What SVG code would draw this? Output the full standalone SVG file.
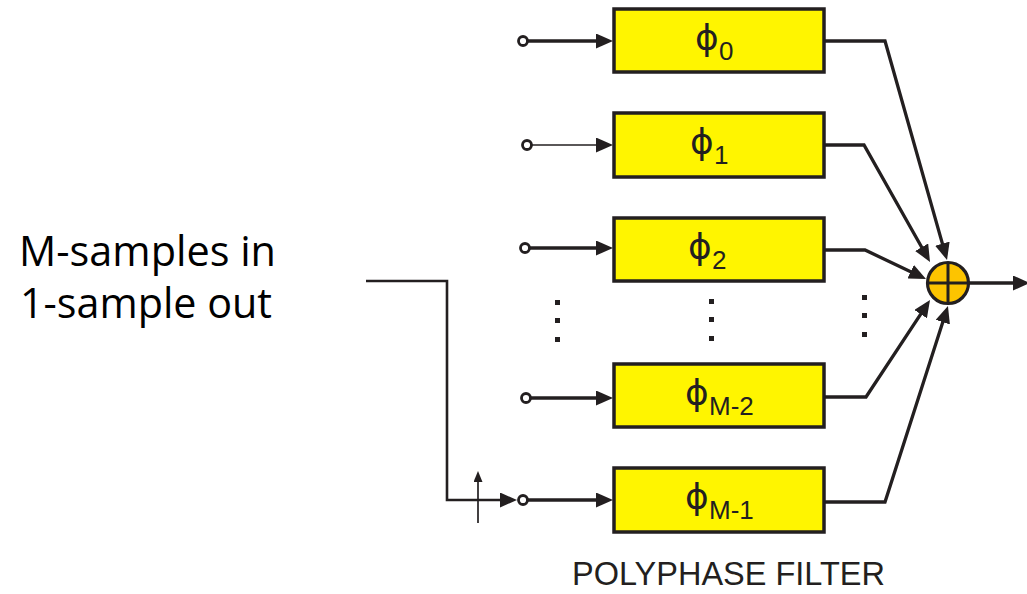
<svg xmlns="http://www.w3.org/2000/svg" width="1027" height="594" viewBox="0 0 1027 594">
<style>
.box{fill:#fff500;stroke:#231f20;stroke-width:3.5}
.ln{fill:none;stroke:#231f20;stroke-width:3.3}
.thin{fill:none;stroke:#231f20;stroke-width:1.7}
.tap{fill:#fff;stroke:#231f20;stroke-width:2.8}
.phi{font-family:"DejaVu Sans",sans-serif;font-size:36px;fill:#231f20}
.sub{font-family:"Liberation Sans",Arial,sans-serif;font-size:26px;fill:#231f20}
.dot{fill:#231f20}
.lbl{font-family:"Open Sans","Liberation Sans",sans-serif;font-size:42px;fill:#000}
.cap{font-family:"Liberation Sans",Arial,sans-serif;font-size:33px;fill:#231f20}
</style>
<defs>
<marker id="ah" markerUnits="userSpaceOnUse" markerWidth="17" markerHeight="15" refX="7" refY="7.5" orient="auto" viewBox="0 0 17 15">
<path d="M0,0 L17,7.5 L0,15 z" fill="#231f20"/>
</marker>
<marker id="ahs" markerUnits="userSpaceOnUse" markerWidth="11" markerHeight="9" refX="5" refY="4.5" orient="auto" viewBox="0 0 11 9">
<path d="M0,0 L11,4.5 L0,9 z" fill="#231f20"/>
</marker>
</defs>
<rect width="1027" height="594" fill="#fff"/>

<g id="label-left">
<text class="lbl" x="19" y="266" textLength="257" lengthAdjust="spacingAndGlyphs">M-samples in</text>
<text class="lbl" x="20" y="318" textLength="252" lengthAdjust="spacingAndGlyphs">1-sample out</text>
</g>

<g id="connectors">
<path class="ln" d="M366,281 H447 V500 H507" marker-end="url(#ah)" style="stroke-width:2.6"/>
<path class="thin" d="M478,523 V477" marker-end="url(#ahs)"/>
<path class="ln" d="M528,41 H603" marker-end="url(#ah)"/>
<path class="thin" d="M532,145 H603" marker-end="url(#ah)"/>
<path class="ln" d="M530,248 H603" marker-end="url(#ah)"/>
<path class="ln" d="M531,398 H603" marker-end="url(#ah)"/>
<path class="ln" d="M528,500 H603" marker-end="url(#ah)"/>
<path class="ln" d="M824,41 H885 L944.3,250.4" marker-end="url(#ah)"/>
<path class="ln" d="M824,145 H864 L925.1,253.3" marker-end="url(#ah)"/>
<path class="ln" d="M824,250 H865 L917,274.7" marker-end="url(#ah)"/>
<path class="ln" d="M824,397 H866 L924.5,308.3" marker-end="url(#ah)"/>
<path class="ln" d="M824,502 H885 L944.9,315.5" marker-end="url(#ah)"/>
<path class="ln" d="M969,283 H1020" marker-end="url(#ah)"/>
</g>

<g id="taps">
<circle class="tap" cx="523" cy="41" r="4.5"/>
<circle class="tap" cx="527" cy="145" r="4.5"/>
<circle class="tap" cx="525" cy="248" r="4.5"/>
<circle class="tap" cx="526" cy="398" r="4.5"/>
<circle class="tap" cx="523" cy="500" r="4.5"/>
</g>

<g id="phi0">
<rect class="box" x="614" y="9" width="210" height="63"/>
<text class="phi" x="695" y="50">ϕ</text>
<text class="sub" x="719" y="60">0</text>
</g>
<g id="phi1">
<rect class="box" x="614" y="113" width="210" height="64"/>
<text class="phi" x="690" y="154">ϕ</text>
<text class="sub" x="714" y="164">1</text>
</g>
<g id="phi2">
<rect class="box" x="614" y="218" width="210" height="63"/>
<text class="phi" x="688" y="259">ϕ</text>
<text class="sub" x="712" y="269">2</text>
</g>
<g id="phiM2">
<rect class="box" x="614" y="364" width="210" height="63"/>
<text class="phi" x="685" y="405">ϕ</text>
<text class="sub" x="709" y="415">M-2</text>
</g>
<g id="phiM1">
<rect class="box" x="614" y="468" width="210" height="64"/>
<text class="phi" x="685" y="509">ϕ</text>
<text class="sub" x="709" y="519">M-1</text>
</g>

<g id="dots">
<rect class="dot" x="555" y="300" width="5" height="5"/>
<rect class="dot" x="555" y="318" width="5" height="5"/>
<rect class="dot" x="555" y="337" width="5" height="5"/>
<rect class="dot" x="709" y="299" width="5" height="5"/>
<rect class="dot" x="709" y="317" width="5" height="5"/>
<rect class="dot" x="709" y="336" width="5" height="5"/>
<rect class="dot" x="862" y="295" width="5" height="5"/>
<rect class="dot" x="862" y="313" width="5" height="5"/>
<rect class="dot" x="862" y="332" width="5" height="5"/>
</g>

<g id="sum">
<circle cx="948" cy="283" r="20.5" fill="#fdc400" stroke="#231f20" stroke-width="3.2"/>
<path d="M948,263 V303 M928,283 H968" stroke="#231f20" stroke-width="3" fill="none"/>
</g>

<g id="caption">
<text class="cap" x="572" y="585" textLength="313" lengthAdjust="spacingAndGlyphs">POLYPHASE FILTER</text>
</g>
</svg>
